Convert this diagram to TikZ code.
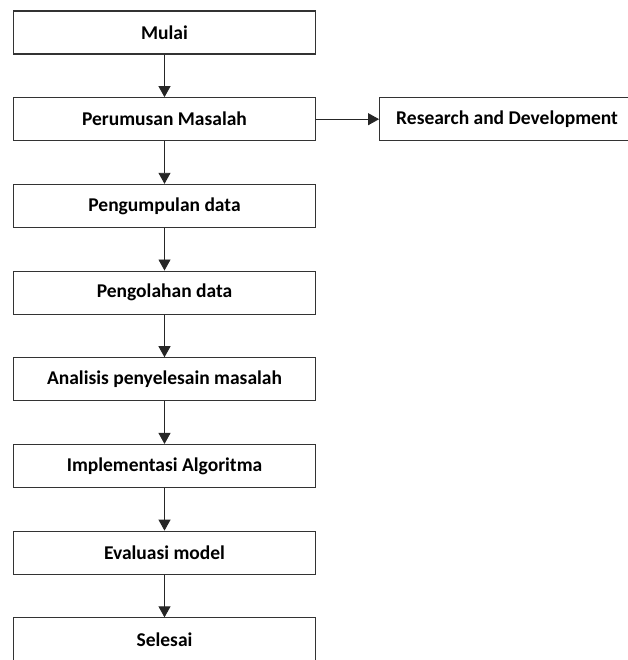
\documentclass[tikz,border=0pt]{standalone}
\usepackage{fontspec}
\setmainfont{Carlito}
\usepackage{tikz}
\usetikzlibrary{positioning, arrows.meta}

\begin{document}
\begin{tikzpicture}[
    x=1pt, y=1pt,
    node distance=42.6pt and 63pt,
    font=\fontsize{19.5}{22}\selectfont\bfseries,
    stepbox/.style={
        rectangle, draw=black!80, line width=1.1pt, fill=white,
        minimum height=43pt, minimum width=302pt, align=center,
        inner sep=0pt
    },
    sidebox/.style={
        stepbox, minimum width=255pt
    },
    arrstyle/.style={-{Triangle[width=12pt,length=11pt]}, line width=0.9pt, black!85},
]

\useasboundingbox (0,0) rectangle (627,660);

% ---- Main flow ----
\node[stepbox] (mulai) at (164.5,627.5) {Mulai};
\node[stepbox, below=of mulai] (rumus) {Perumusan Masalah};
\node[stepbox, below=of rumus] (kumpul) {Pengumpulan data};
\node[stepbox, below=of kumpul] (olah) {Pengolahan data};
\node[stepbox, below=of olah] (analisis) {Analisis penyelesain masalah};
\node[stepbox, below=of analisis] (impl) {Implementasi Algoritma};
\node[stepbox, below=of impl] (eval) {Evaluasi model};
\node[stepbox, below=of eval] (selesai) {Selesai};

% ---- Side box ----
\node[sidebox, right=of rumus] (rnd) {Research and Development};

% ---- Arrows ----
\foreach \a/\b in {mulai/rumus, rumus/kumpul, kumpul/olah, olah/analisis,
                   analisis/impl, impl/eval, eval/selesai} {
    \draw[arrstyle] (\a) -- (\b);
}
\draw[arrstyle] (rumus) -- (rnd);

\end{tikzpicture}
\end{document}
